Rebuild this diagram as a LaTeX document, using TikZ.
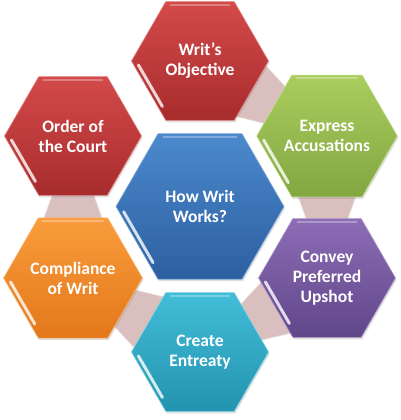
\documentclass[tikz,border=0pt]{standalone}
\usepackage{fontspec}
\setmainfont{Carlito}
\usetikzlibrary{shapes.geometric,calc,shadows}
\pgfdeclarelayer{bg}
\pgfsetlayers{bg,main}
\definecolor{connfill}{HTML}{D5B9B8}
\definecolor{connedge}{HTML}{EADADA}
\definecolor{redT}{HTML}{D34A4A}\definecolor{redB}{HTML}{A82C2D}
\definecolor{grnT}{HTML}{AACD5E}\definecolor{grnB}{HTML}{82A741}
\definecolor{bluT}{HTML}{4B89CD}\definecolor{bluB}{HTML}{2C5FA0}
\definecolor{purT}{HTML}{8D6DB6}\definecolor{purB}{HTML}{60468A}
\definecolor{aquT}{HTML}{42BDD8}\definecolor{aquB}{HTML}{2393AF}
\definecolor{orgT}{HTML}{F99C3C}\definecolor{orgB}{HTML}{E3781C}
\tikzset{
  hex/.style={regular polygon, regular polygon sides=6, minimum size=137pt,
    inner sep=0pt, outer sep=0pt, align=center, text=white,
    font=\fontsize{17.5}{20}\selectfont\bfseries,
    drop shadow={shadow xshift=1pt, shadow yshift=-2pt, opacity=0.25}},
  bigHex/.style={hex, minimum size=168pt},
  fillRed/.style={top color=redT, bottom color=redB, draw=redT!70!white, line width=0.6pt},
  fillGrn/.style={top color=grnT, bottom color=grnB, draw=grnT!70!white, line width=0.6pt},
  fillBlu/.style={top color=bluT, bottom color=bluB, draw=bluT!70!white, line width=0.6pt},
  fillPur/.style={top color=purT, bottom color=purB, draw=purT!70!white, line width=0.6pt},
  fillAqu/.style={top color=aquT, bottom color=aquB, draw=aquT!70!white, line width=0.6pt},
  fillOrg/.style={top color=orgT, bottom color=orgB, draw=orgT!70!white, line width=0.6pt},
  connband/.style={fill=connfill, draw=connedge, line width=0.8pt, opacity=0.9},
  glint/.style={white, line width=3pt, opacity=0.8, line cap=round},
  topglint/.style={white, line width=2.2pt, opacity=0.3},
}
\newcommand\hexhl[1]{%
  \draw[glint] ($(#1.180)!0.1!(#1.240)+(30:4pt)$) -- ($(#1.180)!0.8!(#1.240)+(30:4pt)$);
  \draw[topglint] ($(#1.120)!0.06!(#1.60)+(0,-3pt)$) -- ($(#1.120)!0.94!(#1.60)+(0,-3pt)$);
}
\newcommand\connect[2]{%
  \begin{pgfonlayer}{bg}
  \path[connband] ($(#1)!57pt!(#2)!30pt!90:(#2)$) -- ($(#2)!57pt!(#1)!20pt!-90:(#1)$)
     -- ($(#2)!57pt!(#1)!20pt!90:(#1)$) -- ($(#1)!57pt!(#2)!30pt!-90:(#2)$) -- cycle;
  \end{pgfonlayer}}
\begin{document}
\begin{tikzpicture}[x=1pt,y=1pt]
\useasboundingbox (0,0) rectangle (400,420);
\node[hex, fillRed] (writ) at (200,359) {Writ’s\\Objective};
\node[hex, fillRed] (order) at (73,284) {Order of\\the Court};
\node[hex, fillGrn] (express) at (327,284) {Express\\Accusations};
\node[bigHex, fillBlu] (how) at (200,213.5) {How Writ\\Works?};
\node[hex, fillOrg] (compl) at (73,142) {Compliance\\of Writ};
\node[hex, fillPur] (convey) at (327,142) {Convey\\Preferred\\Upshot};
\node[hex, fillAqu] (create) at (200,68) {Create\\Entreaty};
\connect{writ}{express}
\connect{express}{convey}
\connect{convey}{create}
\connect{create}{compl}
\connect{compl}{order}
\hexhl{writ}\hexhl{order}\hexhl{express}\hexhl{how}\hexhl{compl}\hexhl{convey}\hexhl{create}
\end{tikzpicture}
\end{document}
